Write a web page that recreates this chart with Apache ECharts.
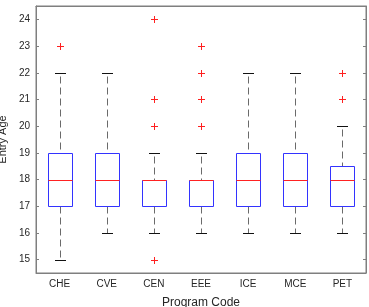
<!DOCTYPE html>
<html>
<head>
<meta charset="utf-8">
<script src="https://cdn.jsdelivr.net/npm/echarts@6/dist/echarts.min.js"></script>
<style>
    html, body { margin: 0; padding: 0; background: #fff; }
    #chart { width: 369px; height: 307px; }
</style>
</head>
<body>
<div id="chart"></div>
<script>
    var categories = ['CHE', 'CVE', 'CEN', 'EEE', 'ICE', 'MCE', 'PET'];
    var whiskerLow = [15, 16, 16, 16, 16, 16, 16];
    var q1 = [17, 17, 17, 17, 17, 17, 17];
    var median = [18, 18, 18, 18, 18, 18, 18];
    var q3 = [19, 19, 18, 18, 19, 19, 18.5];
    var whiskerHigh = [22, 22, 19, 19, 22, 22, 20];
    // [category index, value]
    var outliers = [[0, 23], [2, 15], [2, 20], [2, 21], [2, 24], [3, 20], [3, 21], [3, 22], [3, 23], [6, 21], [6, 22]];
    var yTicks = [15, 16, 17, 18, 19, 20, 21, 22, 23, 24];

    var boxData = categories.map(function (c, i) {
        return [i, whiskerLow[i], q1[i], median[i], q3[i], whiskerHigh[i]];
    });

    var font = 'Liberation Sans, Arial, sans-serif';
    var axisColor = '#7f7f7f';

    // snap to pixel centre so 1px lines stay crisp
    function px(v) {
        return Math.round(v) + 0.5;
    }

    function renderBox(params, api) {
        var x = api.value(0);
        var lo = px(api.coord([x, api.value(1)])[1]);
        var b1 = px(api.coord([x, api.value(2)])[1]);
        var md = px(api.coord([x, api.value(3)])[1]);
        var b3 = px(api.coord([x, api.value(4)])[1]);
        var hi = px(api.coord([x, api.value(5)])[1]);
        var cx = px(api.coord([x, api.value(1)])[0]);
        var bw = Math.round(api.size([1, 0])[0] * 0.5);
        var cw = Math.round(bw * 0.47);
        var dash = {stroke: '#6a6a6a', lineWidth: 1, lineDash: [7, 4]};
        var solid = {stroke: '#111', lineWidth: 1};
        return {
            type: 'group',
            children: [
                {type: 'line', shape: {x1: cx, y1: hi + 3, x2: cx, y2: b3}, style: dash},
                {type: 'line', shape: {x1: cx, y1: b1, x2: cx, y2: lo}, style: dash},
                {type: 'line', shape: {x1: cx - cw / 2, y1: hi, x2: cx + cw / 2, y2: hi}, style: solid},
                {type: 'line', shape: {x1: cx - cw / 2, y1: lo, x2: cx + cw / 2, y2: lo}, style: solid},
                {type: 'rect', shape: {x: cx - bw / 2, y: b3, width: bw, height: b1 - b3},
                    style: {fill: '#fff', stroke: '#3333ff', lineWidth: 1}},
                {type: 'line', shape: {x1: cx - bw / 2, y1: md, x2: cx + bw / 2, y2: md},
                    style: {stroke: '#ff2222', lineWidth: 1}}
            ]
        };
    }

    function renderPlus(params, api) {
        var p = api.coord([api.value(0), api.value(1)]);
        var s = 3.5;
        var cx = px(p[0]);
        var cy = px(p[1]);
        var st = {stroke: '#ff2020', lineWidth: 1};
        return {
            type: 'group',
            children: [
                {type: 'line', shape: {x1: cx - s, y1: cy, x2: cx + s, y2: cy}, style: st},
                {type: 'line', shape: {x1: cx, y1: cy - s, x2: cx, y2: cy + s}, style: st}
            ]
        };
    }

    var tickLabel = {color: '#262626', fontSize: 10, fontFamily: font};

    var option = {
        animation: false,
        grid: {left: 36, right: 3, top: 6, bottom: 34, outerBoundsMode: 'none', containLabel: false,
            show: true, borderColor: axisColor, borderWidth: 1},
        xAxis: [{
            type: 'category',
            data: categories,
            name: 'Program Code',
            nameLocation: 'middle',
            nameGap: 24,
            nameTextStyle: {color: '#262626', fontSize: 12, fontFamily: font},
            axisLine: {lineStyle: {color: axisColor}},
            axisTick: {inside: true, alignWithLabel: true, length: 3, lineStyle: {color: axisColor}},
            axisLabel: Object.assign({margin: 6}, tickLabel)
        }, {
            type: 'category',
            data: categories,
            position: 'top',
            axisLine: {lineStyle: {color: axisColor}},
            axisTick: {inside: true, alignWithLabel: true, length: 3, lineStyle: {color: axisColor}},
            axisLabel: {show: false}
        }],
        yAxis: [{
            type: 'value',
            min: 14.5,
            max: 24.5,
            name: 'Entry Age',
            nameLocation: 'middle',
            nameGap: 25,
            nameTextStyle: {color: '#262626', fontSize: 11, fontFamily: font},
            splitLine: {show: false},
            axisLine: {show: true, lineStyle: {color: axisColor}},
            axisTick: {show: true, inside: true, length: 3, customValues: yTicks, lineStyle: {color: axisColor}},
            axisLabel: Object.assign({margin: 6, customValues: yTicks}, tickLabel)
        }, {
            type: 'value',
            min: 14.5,
            max: 24.5,
            position: 'right',
            splitLine: {show: false},
            axisLine: {show: true, lineStyle: {color: axisColor}},
            axisTick: {show: true, inside: true, length: 3, customValues: yTicks, lineStyle: {color: axisColor}},
            axisLabel: {show: false}
        }],
        series: [{
            type: 'custom',
            renderItem: renderBox,
            encode: {x: 0, y: [1, 2, 3, 4, 5]},
            data: boxData,
            z: 2
        }, {
            type: 'custom',
            renderItem: renderPlus,
            encode: {x: 0, y: 1},
            data: outliers,
            z: 3
        }]
    };

    var myChart = echarts.init(document.getElementById('chart'));
    myChart.setOption(option);
</script>
</body>
</html>
